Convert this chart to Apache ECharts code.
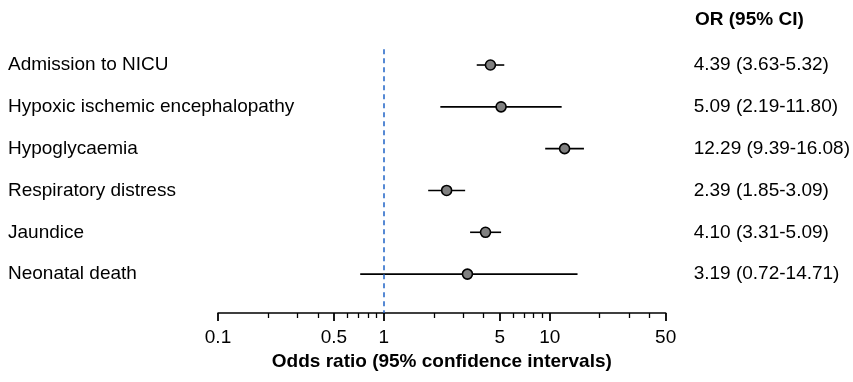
<!DOCTYPE html>
<html>
<head>
<meta charset="utf-8">
<script src="https://cdn.jsdelivr.net/npm/echarts@6/dist/echarts.min.js"></script>
<style>html,body{margin:0;padding:0;background:#fff}#c{width:853px;height:382px}</style>
</head>
<body>
<div id="c"></div>
<script>
var outcomes = ['Admission to NICU', 'Hypoxic ischemic encephalopathy', 'Hypoglycaemia', 'Respiratory distress', 'Jaundice', 'Neonatal death'];
var oddsRatio = [4.39, 5.09, 12.29, 2.39, 4.10, 3.19];
var ciLower = [3.63, 2.19, 9.39, 1.85, 3.31, 0.72];
var ciUpper = [5.32, 11.80, 16.08, 3.09, 5.09, 14.71];
var majorTicks = [0.1, 0.5, 1, 5, 10, 50];
var minorTicks = [0.2, 0.3, 0.4, 0.6, 0.7, 0.8, 0.9, 2, 3, 4, 6, 7, 8, 9, 20, 30, 40];
var rowPos = [1, 2, 3, 4, 5, 6];

var FONT = 'Liberation Sans, Arial, sans-serif';
var FS = 19;
function ciText(i) {
  return oddsRatio[i].toFixed(2) + ' (' + ciLower[i].toFixed(2) + '-' + ciUpper[i].toFixed(2) + ')';
}
var chart = echarts.init(document.getElementById('c'));
var Y_MAX = 6.93;
chart.setOption({
  animation: false,
  title: {
    text: 'OR (95% CI)', left: 690, top: 5,
    textStyle: {fontFamily: FONT, fontSize: FS, fontWeight: 'bold', color: '#000'}
  },
  grid: {left: 218, right: 185, top: 23.2, bottom: 69, containLabel: false},
  xAxis: [{
    type: 'log', logBase: 10, min: 0.1, max: 50,
    axisLine: {onZero: false, lineStyle: {color: '#000', width: 1.5}},
    axisTick: {show: true, customValues: minorTicks, length: 5, lineStyle: {color: '#000', width: 1.3}},
    axisLabel: {customValues: majorTicks, margin: 15, color: '#000', fontFamily: FONT, fontSize: FS,
      formatter: function (v) { return String(v); }},
    splitLine: {show: false},
    name: 'Odds ratio (95% confidence intervals)', nameLocation: 'middle', nameGap: 35,
    nameTextStyle: {fontFamily: FONT, fontSize: FS, fontWeight: 'bold', color: '#000'}
  }, {
    type: 'log', logBase: 10, min: 0.1, max: 50, position: 'bottom',
    axisLine: {show: false, onZero: false},
    axisTick: {show: true, customValues: majorTicks, length: 8, lineStyle: {color: '#000', width: 1.8}},
    axisLabel: {show: false},
    splitLine: {show: false}
  }],
  yAxis: [{
    type: 'value', inverse: true, min: 0, max: Y_MAX,
    axisLine: {show: false}, axisTick: {show: false}, splitLine: {show: false},
    axisLabel: {customValues: rowPos, align: 'left', margin: 210, color: '#000', fontFamily: FONT, fontSize: FS,
      formatter: function (v) { return outcomes[Math.round(v) - 1] || ''; }}
  }, {
    type: 'value', inverse: true, min: 0, max: Y_MAX, position: 'right',
    axisLine: {show: false}, axisTick: {show: false}, splitLine: {show: false},
    axisLabel: {customValues: rowPos, align: 'left', margin: 28, color: '#000', fontFamily: FONT, fontSize: FS,
      formatter: function (v) { var i = Math.round(v) - 1; return i >= 0 && i < 6 ? ciText(i) : ''; }}
  }],
  series: [{
    type: 'custom',
    xAxisIndex: 0, yAxisIndex: 0,
    encode: {x: [0, 1], y: 2},
    data: outcomes.map(function (n, i) { return [ciLower[i], ciUpper[i], rowPos[i]]; }),
    renderItem: function (params, api) {
      var p1 = api.coord([api.value(0), api.value(2)]);
      var p2 = api.coord([api.value(1), api.value(2)]);
      return {type: 'line', shape: {x1: p1[0], y1: p1[1], x2: p2[0], y2: p2[1]},
        style: {stroke: '#000', lineWidth: 1.6}};
    },
    z: 2
  }, {
    type: 'scatter',
    xAxisIndex: 0, yAxisIndex: 0,
    symbol: 'circle', symbolSize: 10,
    itemStyle: {color: '#808080', borderColor: '#000', borderWidth: 1.6, opacity: 1},
    data: outcomes.map(function (n, i) { return [oddsRatio[i], rowPos[i]]; }),
    z: 3,
    markLine: {
      silent: true, symbol: 'none', label: {show: false},
      lineStyle: {color: '#1f63c6', type: [5, 4], width: 1.5},
      data: [[{coord: [1, 0.62]}, {coord: [1, Y_MAX]}]]
    }
  }]
});
</script>
</body>
</html>
